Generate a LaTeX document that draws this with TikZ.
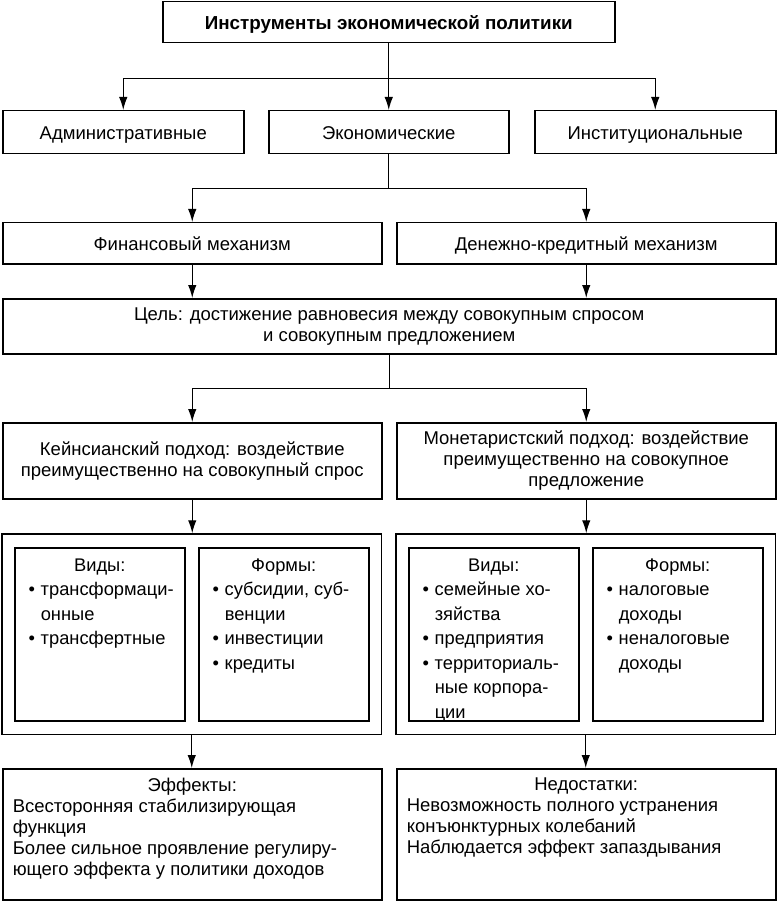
\documentclass[tikz,border=0pt]{standalone}
\usepackage{fontspec}
\setmainfont{Liberation Sans}
\usetikzlibrary{arrows.meta,fit}

\newcommand{\punkt}[1]{\par\hangindent=18pt\hangafter=1\noindent\makebox[18pt][c]{•}#1}
\newcommand{\cellfont}{\fontsize{18.5}{21}\selectfont}

\tikzset{
  block/.style={draw, line width=1.5pt, anchor=north west, inner sep=0pt,
    align=center, font=\cellfont},
  oneline/.style={block, text height=14pt, text depth=0pt},
  listbox/.style={draw, line width=1.5pt, anchor=north west, inner xsep=8pt,
    inner ysep=11pt, font=\fontsize{18.3}{24.5}\selectfont},
  grpbox/.style={draw, line width=1.5pt, inner xsep=12pt, inner ysep=13pt},
  textbox/.style={draw, line width=1.5pt, anchor=north west, inner xsep=10pt,
    inner ysep=9pt, font=\cellfont},
  conn/.style={line width=1.3pt},
  arr/.style={conn, -{Latex[length=13pt,width=8.5pt]}}
}

\begin{document}
\begin{tikzpicture}[x=1pt,y=-1pt]
  \useasboundingbox (0,0) rectangle (776,901);
  \node[oneline, minimum width=452, minimum height=41, font=\fontsize{18.8}{21}\selectfont\bfseries] (instr) at (162,1) {Инструменты экономической политики};
  \node[oneline, minimum width=241, minimum height=43] (adm) at (2,110) {Административные};
  \node[oneline, minimum width=240, minimum height=43] (eco) at (268,110) {Экономические};
  \node[oneline, minimum width=241, minimum height=43] (inst) at (534,110) {Институциональные};
  \node[oneline, minimum width=379, minimum height=41] (fin) at (2,222) {Финансовый механизм};
  \node[oneline, minimum width=379, minimum height=41] (den) at (396,222) {Денежно-кредитный механизм};
  \node[block, minimum width=773, minimum height=55] (goal) at (2,298) {Цель: достижение равновесия между совокупным спросом\\и совокупным предложением};
  \node[block, minimum width=379, minimum height=76] (keyn) at (2,422) {Кейнсианский подход: воздействие\\преимущественно на совокупный спрос};
  \node[block, minimum width=379, minimum height=76] (monet) at (396,422) {Монетаристский подход: воздействие\\преимущественно на совокупное\\предложение};
  \node[listbox] (lvid) at (14,547) {\parbox[c][151pt][t]{154pt}{{\centering Виды:\par}\punkt{трансформаци-\newline онные}\punkt{трансфертные}}};
  \node[listbox] (lform) at (198,547) {\parbox[c][151pt][t]{154pt}{{\centering Формы:\par}\punkt{субсидии, суб-\newline венции}\punkt{инвестиции}\punkt{кредиты}}};
  \node[listbox] (rvid) at (408,547) {\parbox[c][151pt][t]{154pt}{{\centering Виды:\par}\punkt{семейные хо-\newline зяйства}\punkt{предприятия}\punkt{территориаль-\newline ные корпора-\newline ции}}};
  \node[listbox] (rform) at (592,547) {\parbox[c][151pt][t]{154pt}{{\centering Формы:\par}\punkt{налоговые\newline доходы}\punkt{неналоговые\newline доходы}}};
  \node[grpbox, fit=(lvid)(lform)] (lgrp) {};
  \node[grpbox, fit=(rvid)(rform)] (rgrp) {};
  \node[textbox] (eff) at (2,768) {\parbox[c][113pt][t]{359pt}{{\centering Эффекты:\par}\raggedright Всесторонняя стабилизирующая\\функция\\Более сильное проявление регулиру-\\ющего эффекта у политики доходов}};
  \node[textbox] (ned) at (396,768) {\parbox[c][113pt][t]{359pt}{{\centering Недостатки:\par}\raggedright Невозможность полного устранения\\конъюнктурных колебаний\\Наблюдается эффект запаздывания}};

  \draw[conn] (instr.south) -- ++(0,35) coordinate (j1);
  \draw[arr] (j1) -| (adm.north);
  \draw[arr] (j1) -- (eco.north);
  \draw[arr] (j1) -| (inst.north);
  \draw[conn] (eco.south) -- ++(0,34) coordinate (j2);
  \draw[arr] (j2) -| (fin.north);
  \draw[arr] (j2) -| (den.north);
  \draw[arr] (fin.south) -- (fin.south |- goal.north);
  \draw[arr] (den.south) -- (den.south |- goal.north);
  \draw[conn] (goal.south) -- ++(0,34) coordinate (j3);
  \draw[arr] (j3) -| (keyn.north);
  \draw[arr] (j3) -| (monet.north);
  \draw[arr] (keyn.south) -- (keyn.south |- lgrp.north);
  \draw[arr] (monet.south) -- (monet.south |- rgrp.north);
  \draw[arr] (lgrp.south) -- (lgrp.south |- eff.north);
  \draw[arr] (rgrp.south) -- (rgrp.south |- ned.north);
\end{tikzpicture}
\end{document}
